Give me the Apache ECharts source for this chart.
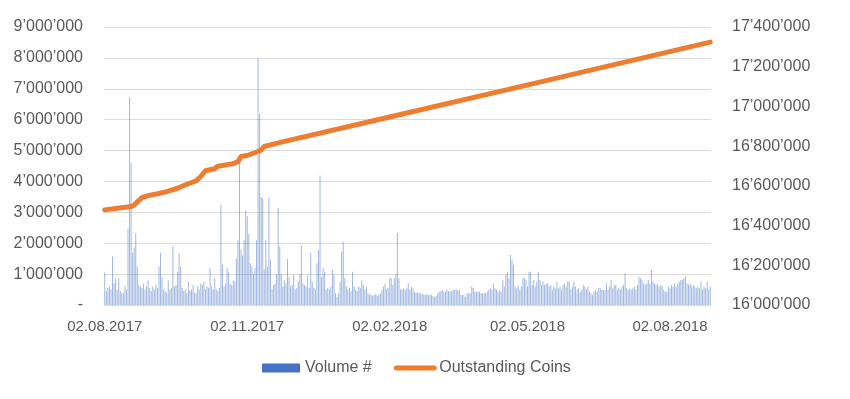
<!DOCTYPE html>
<html>
<head>
<meta charset="utf-8">
<title>Volume # / Outstanding Coins</title>
<script src="https://cdn.jsdelivr.net/npm/echarts@6/dist/echarts.min.js"></script>
<style>
  html, body { margin: 0; padding: 0; background: #fff; }
  #chart { width: 850px; height: 399px; }
</style>
</head>
<body>
<div id="chart"></div>
<script>
// first day of the daily series
const startDay = Date.UTC(2017, 7, 2)

// tick labels shown on the date axis
const xLabels = ['02.08.2017', '02.11.2017', '02.02.2018', '02.05.2018', '02.08.2018']

// daily traded volume, in thousands
const volumeK = [
  1050, 450, 550, 600, 500, 1570, 700, 850, 500, 870,
  450, 400, 380, 620, 500, 2470, 6730, 4600, 1700, 1850,
  2330, 1250, 650, 600, 550, 700, 500, 600, 800, 550,
  450, 600, 500, 650, 550, 1250, 1690, 900, 500, 450,
  400, 800, 500, 550, 1900, 600, 650, 1080, 1680, 1250,
  550, 450, 500, 400, 750, 450, 500, 650, 400, 380,
  600, 500, 700, 650, 750, 500, 600, 550, 1200, 600,
  500, 870, 500, 450, 550, 3250, 1300, 600, 700, 1200,
  1080, 700, 650, 800, 750, 1500, 2100, 4600, 1800, 1600,
  2100, 3060, 2870, 2300, 1350, 1250, 1000, 1200, 2100, 7980,
  6200, 3500, 3450, 1150, 2100, 1250, 3500, 1450, 500, 650,
  700, 1000, 3140, 1900, 1000, 600, 800, 700, 1500, 900,
  600, 650, 970, 500, 550, 750, 1000, 1900, 700, 650,
  600, 970, 550, 1690, 750, 550, 500, 1350, 1780, 4190,
  900, 1200, 1080, 500, 550, 500, 600, 1130, 970, 380,
  270, 380, 750, 1730, 2050, 870, 600, 500, 550, 450,
  1080, 600, 500, 450, 600, 550, 800, 650, 500, 600,
  380, 350, 320, 300, 330, 350, 300, 320, 380, 500,
  600, 700, 500, 550, 870, 870, 650, 870, 1000, 2330,
  870, 500, 500, 540, 490, 540, 700, 490, 600, 540,
  430, 400, 400, 400, 380, 350, 350, 330, 350, 320,
  320, 320, 300, 270, 290, 380, 430, 450, 490, 430,
  430, 490, 450, 430, 450, 490, 490, 490, 470, 490,
  320, 320, 320, 270, 380, 380, 380, 600, 540, 430,
  430, 430, 430, 380, 380, 380, 380, 430, 490, 540,
  490, 700, 540, 490, 430, 490, 430, 810, 600, 970,
  1080, 870, 1620, 1460, 1300, 600, 540, 650, 490, 600,
  870, 870, 810, 600, 1080, 1080, 650, 810, 600, 760,
  1080, 810, 650, 760, 650, 700, 700, 600, 650, 490,
  600, 540, 760, 540, 600, 490, 650, 700, 600, 760,
  760, 490, 600, 760, 600, 490, 540, 430, 490, 650,
  600, 490, 600, 430, 380, 320, 430, 490, 430, 540,
  540, 490, 490, 490, 700, 490, 600, 810, 540, 650,
  650, 490, 540, 490, 600, 650, 1030, 540, 490, 540,
  490, 540, 600, 490, 650, 920, 870, 810, 700, 650,
  700, 810, 700, 1140, 760, 700, 650, 700, 600, 650,
  600, 490, 430, 430, 600, 540, 650, 600, 700, 600,
  700, 760, 810, 810, 870, 920, 700, 650, 700, 600,
  650, 600, 540, 600, 540, 760, 490, 600, 540, 760,
  490, 600
]

// outstanding coins: [day index, coins] at the bends of the line
const coinPoints = [
  [0, 16479000], [17, 16496000], [19, 16504000], [24, 16541000],
  [28, 16551000], [34, 16560000], [40, 16571000], [47, 16588000],
  [53, 16608000], [59, 16625000], [62, 16647000], [65, 16676000],
  [71, 16686000], [73, 16699000], [83, 16712000], [86, 16722000],
  [88, 16748000], [92, 16753000], [99, 16773000], [101, 16781000],
  [103, 16798000], [114, 16820000], [184, 16947000], [274, 17110000],
  [391, 17324000]
]

// build the dd.mm.yyyy category list
const days = []
for (let i = 0; i < volumeK.length; i++) {
  const d = new Date(startDay + i * 86400000)
  const dd = String(d.getUTCDate()).padStart(2, '0')
  const mm = String(d.getUTCMonth() + 1).padStart(2, '0')
  days.push(dd + '.' + mm + '.' + d.getUTCFullYear())
}

function fmt(v) {
  return String(Math.round(v)).replace(/\B(?=(\d{3})+(?!\d))/g, '\u2019')
}

const textColor = '#595959'
const font = 'Liberation Sans'
const orange = '#ED7D31'

const chart = echarts.init(document.getElementById('chart'))
chart.setOption({
  animation: false,
  textStyle: { fontFamily: font },
  grid: { left: 104, right: 139, top: 27, bottom: 94 },
  legend: {
    left: 257,
    top: 355,
    itemGap: 22,
    itemWidth: 38,
    itemHeight: 9,
    textStyle: { color: textColor, fontSize: 16, fontFamily: font },
    data: [
      { name: 'Volume #', icon: 'rect', itemStyle: { opacity: 1 } },
      {
        name: 'Outstanding Coins',
        itemStyle: { opacity: 0 },
        lineStyle: { color: orange, width: 5, cap: 'round', opacity: 1 }
      }
    ]
  },
  xAxis: {
    type: 'category',
    data: days,
    boundaryGap: true,
    axisLine: { lineStyle: { color: '#d9d9d9' } },
    axisTick: { show: false },
    axisLabel: {
      color: textColor,
      fontSize: 15,
      margin: 14,
      interval: function (i, v) { return xLabels.indexOf(v) >= 0 }
    }
  },
  yAxis: [
    {
      type: 'value',
      min: 0,
      max: 9000,
      interval: 1000,
      axisLine: { show: false },
      axisTick: { show: false },
      splitLine: { lineStyle: { color: '#d9d9d9' } },
      axisLabel: {
        color: textColor,
        fontSize: 16,
        margin: 21,
        formatter: function (v) { return v === 0 ? '-' : fmt(v * 1000) }
      }
    },
    {
      type: 'value',
      min: 16000000,
      max: 17400000,
      interval: 200000,
      alignTicks: false,
      axisLine: { show: false },
      axisTick: { show: false },
      splitLine: { show: false },
      axisLabel: {
        color: textColor,
        fontSize: 16,
        margin: 21,
        formatter: fmt
      }
    }
  ],
  series: [
    {
      name: 'Volume #',
      type: 'bar',
      yAxisIndex: 0,
      data: volumeK,
      barCategoryGap: '40%',
      itemStyle: { color: '#4472C4', opacity: 0.5 }
    },
    {
      name: 'Outstanding Coins',
      type: 'line',
      yAxisIndex: 1,
      data: coinPoints,
      showSymbol: false,
      symbol: 'none',
      lineStyle: { color: orange, width: 5, cap: 'round', join: 'round' },
      itemStyle: { color: orange }
    }
  ]
})
</script>
</body>
</html>
